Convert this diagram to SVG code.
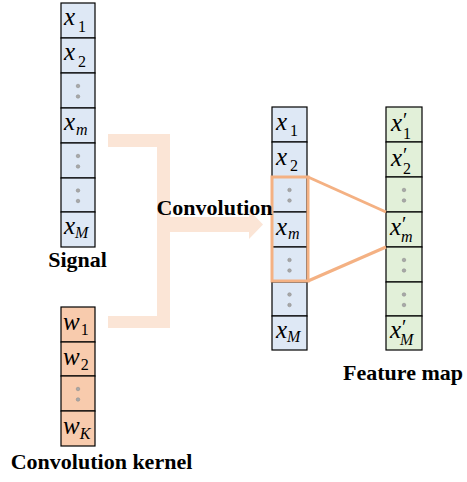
<svg xmlns="http://www.w3.org/2000/svg" width="467" height="482" viewBox="0 0 467 482">
<style>
.cb{fill:#DEE8F5;stroke:#000;stroke-width:1.2}
.co{fill:#F8CBAD;stroke:#000;stroke-width:1.2}
.cg{fill:#E2F0D9;stroke:#000;stroke-width:1.2}
.v{font-family:"Liberation Serif","Times New Roman",serif;font-style:italic;font-size:25px;fill:#000}
.s{font-size:16px;font-style:normal}
.si{font-size:16px;font-style:italic}
.p{font-style:normal;font-size:20px}
.t{font-family:"Liberation Serif","Times New Roman",serif;font-weight:bold;font-size:22px;fill:#000;text-anchor:middle}
.d{fill:#A8A8A8;stroke:#888;stroke-width:0.5}
.hl{fill:none;stroke:#F4B183;stroke-width:3}
</style>
<g id="bracket">
<path d="M108,134 H170 V217 H249 V210 L263,224.5 L249,239 V232 H170 V328 H108 V316 H157 V147 H108 Z" fill="#FBE5D6"/>
</g>
<g id="signal">
<rect class="cb" x="61" y="3" width="34" height="35"/>
<rect class="cb" x="61" y="38" width="34" height="35"/>
<rect class="cb" x="61" y="73" width="34" height="35"/>
<rect class="cb" x="61" y="108" width="34" height="35"/>
<rect class="cb" x="61" y="143" width="34" height="35"/>
<rect class="cb" x="61" y="178" width="34" height="34"/>
<rect class="cb" x="61" y="212" width="34" height="35"/>
<text class="v" x="64" y="25">x<tspan class="s" dx="3" dy="7">1</tspan></text>
<text class="v" x="64" y="60">x<tspan class="s" dx="3" dy="7">2</tspan></text>
<circle class="d" cx="78" cy="86" r="1.8"/><circle class="d" cx="78" cy="96.5" r="1.8"/>
<text class="v" x="64" y="130">x<tspan class="si" dx="1" dy="5">m</tspan></text>
<circle class="d" cx="78" cy="156" r="1.8"/><circle class="d" cx="78" cy="166.5" r="1.8"/>
<circle class="d" cx="78" cy="190.5" r="1.8"/><circle class="d" cx="78" cy="201" r="1.8"/>
<text class="v" x="64" y="234">x<tspan class="si" dx="0" dy="4">M</tspan></text>
</g>
<g id="kernel">
<rect class="co" x="61" y="307" width="34" height="35"/>
<rect class="co" x="61" y="342" width="34" height="34"/>
<rect class="co" x="61" y="376" width="34" height="35"/>
<rect class="co" x="61" y="411" width="34" height="35"/>
<text class="v" x="63" y="330">w<tspan class="s" dx="1" dy="5">1</tspan></text>
<text class="v" x="63" y="365">w<tspan class="s" dx="1" dy="5">2</tspan></text>
<circle class="d" cx="78" cy="389" r="1.8"/><circle class="d" cx="78" cy="399.5" r="1.8"/>
<text class="v" x="63" y="434">w<tspan class="si" dx="0" dy="5">K</tspan></text>
</g>
<g id="input">
<rect class="cb" x="272" y="107" width="35" height="35"/>
<rect class="cb" x="272" y="142" width="35" height="35"/>
<rect class="cb" x="272" y="177" width="35" height="35"/>
<rect class="cb" x="272" y="212" width="35" height="35"/>
<rect class="cb" x="272" y="247" width="35" height="35"/>
<rect class="cb" x="272" y="282" width="35" height="34"/>
<rect class="cb" x="272" y="316" width="35" height="34"/>
<text class="v" x="276" y="130">x<tspan class="s" dx="3" dy="6">1</tspan></text>
<text class="v" x="276" y="165">x<tspan class="s" dx="3" dy="6">2</tspan></text>
<circle class="d" cx="289.5" cy="190" r="1.8"/><circle class="d" cx="289.5" cy="200.5" r="1.8"/>
<text class="v" x="276" y="235">x<tspan class="si" dx="1" dy="4">m</tspan></text>
<circle class="d" cx="289.5" cy="260" r="1.8"/><circle class="d" cx="289.5" cy="270.5" r="1.8"/>
<circle class="d" cx="289.5" cy="294.5" r="1.8"/><circle class="d" cx="289.5" cy="305" r="1.8"/>
<text class="v" x="276" y="338">x<tspan class="si" dx="0" dy="4">M</tspan></text>
</g>
<g id="feature">
<rect class="cg" x="386" y="107" width="36" height="35"/>
<rect class="cg" x="386" y="142" width="36" height="35"/>
<rect class="cg" x="386" y="177" width="36" height="35"/>
<rect class="cg" x="386" y="212" width="36" height="35"/>
<rect class="cg" x="386" y="247" width="36" height="35"/>
<rect class="cg" x="386" y="282" width="36" height="34"/>
<rect class="cg" x="386" y="316" width="36" height="34"/>
<text class="v" x="391" y="131">x<tspan class="p" x="403" y="127">′</tspan><tspan class="s" x="403" y="139">1</tspan></text>
<text class="v" x="391" y="166">x<tspan class="p" x="403" y="162">′</tspan><tspan class="s" x="403" y="174">2</tspan></text>
<circle class="d" cx="404" cy="190" r="1.8"/><circle class="d" cx="404" cy="200.5" r="1.8"/>
<text class="v" x="390" y="235">x<tspan class="p" x="402" y="231">′</tspan><tspan class="si" x="401" y="242">m</tspan></text>
<circle class="d" cx="404" cy="260" r="1.8"/><circle class="d" cx="404" cy="270.5" r="1.8"/>
<circle class="d" cx="404" cy="294.5" r="1.8"/><circle class="d" cx="404" cy="305" r="1.8"/>
<text class="v" x="390" y="338">x<tspan class="p" x="402" y="334">′</tspan><tspan class="si" x="400" y="345">M</tspan></text>
</g>
<g id="connectors">
<rect class="hl" x="272" y="177" width="36" height="104"/>
<line class="hl" x1="308" y1="177" x2="386" y2="212"/>
<line class="hl" x1="308" y1="281" x2="386" y2="247"/>
</g>
<g id="labels">
<text class="t" x="214.5" y="215">Convolution</text>
<text class="t" x="77.5" y="267">Signal</text>
<text class="t" x="101.5" y="469">Convolution kernel</text>
<text class="t" x="403" y="380">Feature map</text>
</g>
</svg>
